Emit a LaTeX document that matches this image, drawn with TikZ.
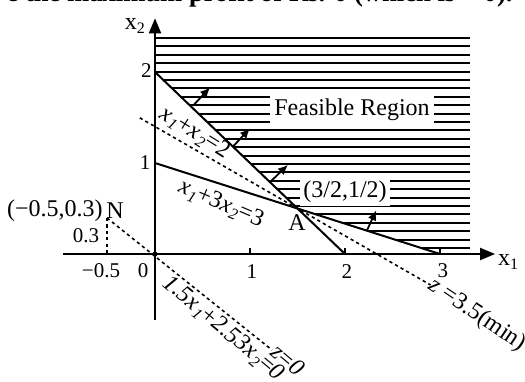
\documentclass[tikz,border=0pt]{standalone}
\usepackage{fontspec}
\setmainfont{Liberation Serif}
\usetikzlibrary{arrows.meta}
\newcommand{\vx}[1]{\textit{x}\kern0.03em\raisebox{-0.4ex}{\fontsize{8}{9}\selectfont\textit{#1}}}
\newcommand{\ux}[1]{x\raisebox{-0.4ex}{\fontsize{8}{9}\selectfont #1}}
\begin{document}
\begin{tikzpicture}[x=47.5pt,y=45.5pt,
  axisline/.style={line width=1pt},
  cline/.style={line width=1pt},
  hatchline/.style={line width=0.95pt},
  zline/.style={line width=0.8pt, dash pattern=on 1.6pt off 1.6pt},
  normarrow/.style={line width=0.9pt,-{Latex[length=5pt,width=4.5pt]}},
  axisarrow/.style={axisline,-{Triangle[length=7.5pt,width=6pt]}},
  lab/.style={font=\fontsize{10.5}{12}\selectfont, inner sep=0.5pt},
  biglab/.style={font=\fontsize{12}{14}\selectfont, inner sep=0.5pt},
  toptext/.style={font=\bfseries\fontsize{13.3}{16}\selectfont, inner sep=0pt, anchor=base east},
]
\useasboundingbox (-1.6316,-1.3956) rectangle (3.8947,2.7912);

% clipped heading text at the very top
\begin{scope}
  \clip (-1.6316,-1.3956) rectangle (3.8947,2.7912);
  \node[toptext] (head) at (3.768,2.775) {e the maximum profit of Rs. 0 (which is = 0).};
\end{scope}

% key points
\coordinate (O) at (0,0);
\coordinate (P02) at (0,2);
\coordinate (P20) at (2,0);
\coordinate (P01) at (0,1);
\coordinate (P30) at (3,0);
\coordinate (A) at (1.5,0.5);
\coordinate (xs) at (-0.97,0);
\coordinate (xe) at (3.58,0);
\coordinate (ys) at (0,-0.725);
\coordinate (ye) at (0,2.59);
\coordinate (Z1) at (-0.16,1.496);
\coordinate (Z2) at (2.9,-0.34);
\coordinate (N) at (-0.505,0.396);
\coordinate (Nb) at (-0.505,0);
\coordinate (Z0e) at (1.232,-1.055);

% hatching of the feasible region
\begin{scope}
  \clip (0,2.6) -- (P02) -- (A) -- (P30) -- (3.32,0) -- (3.32,2.6) -- cycle;
  \foreach \k in {0,...,25} {
    \draw[hatchline] (0,2.374-\k*0.0923) -- (3.32,2.374-\k*0.0923);
  }
\end{scope}

% constraint lines
\draw[cline] (P02) -- (P20);
\draw[cline] (P01) -- (P30);

% objective lines
\draw[zline] (Z1) -- (Z2);
\draw[zline] (N) -- (Z0e);
\draw[zline] (N) -- (Nb);

% axes
\draw[axisarrow] (xs) -- (xe);
\draw[axisarrow] (ys) -- (ye);
\foreach \i in {1,2,3} { \draw[axisline] (\i,0) -- (\i,0.065); }
\fill (O) circle (1.3pt);

% normal arrows
\coordinate (a1s) at (0.40,1.63); \coordinate (a1e) at (0.58,1.83);
\coordinate (a2s) at (0.82,1.18); \coordinate (a2e) at (1.00,1.38);
\coordinate (a3s) at (1.21,0.79); \coordinate (a3e) at (1.40,0.98);
\coordinate (a4s) at (2.23,0.257); \coordinate (a4e) at (2.33,0.48);
\draw[normarrow] (a1s) -- (a1e);
\draw[normarrow] (a2s) -- (a2e);
\draw[normarrow] (a3s) -- (a3e);
\draw[normarrow] (a4s) -- (a4e);

% tick labels
\node[lab] (ly2) at (-0.09,2.02) {2};
\node[lab] (ly1) at (-0.105,1.0) {1};
\node[lab] (l0) at (-0.126,-0.187) {0};
\node[lab] (lm05) at (-0.568,-0.187) {−0.5};
\node[lab] (lx1) at (1.021,-0.198) {1};
\node[lab] (lx2) at (2.021,-0.198) {2};
\node[lab] (lx3) at (3.03,-0.187) {3};
\node[lab] (l03) at (-0.726,0.198) {0.3};
\node[biglab] (lN) at (-1.053,0.473) {(−0.5,0.3)};
\node[biglab] (lNN) at (-0.421,0.473) {N};

% axis labels
\node[biglab] (x1lab) at (3.716,-0.088) {\ux{1}};
\node[biglab] (x2lab) at (-0.211,2.505) {\ux{2}};

% other labels
\node[biglab, fill=white, inner sep=2pt] (feas) at (2.074,1.582) {Feasible Region};
\node[biglab, fill=white, inner sep=1.5pt] (pt) at (2.0,0.681) {(3/2,1/2)};
\node[biglab] (lA) at (1.495,0.341) {A};
\node[biglab, rotate=-32] (c1) at (0.421,1.330) {\vx{1}+\vx{2}=2};
\node[biglab, rotate=-23] (c2) at (0.695,0.549) {\vx{1}+3\vx{2}=3};
\node[biglab, rotate=-34] (zmin) at (3.39,-0.67) {\textit{z} =3.5(min)};
\node[biglab, rotate=-40] (z0a) at (0.716,-0.824) {\textit{1.5}\vx{1}+\textit{2.53}\vx{2}=\textit{0}};
\node[biglab, rotate=-40] (z0b) at (1.40,-1.16) {\textit{z}=\textit{0}};
\end{tikzpicture}
\end{document}
